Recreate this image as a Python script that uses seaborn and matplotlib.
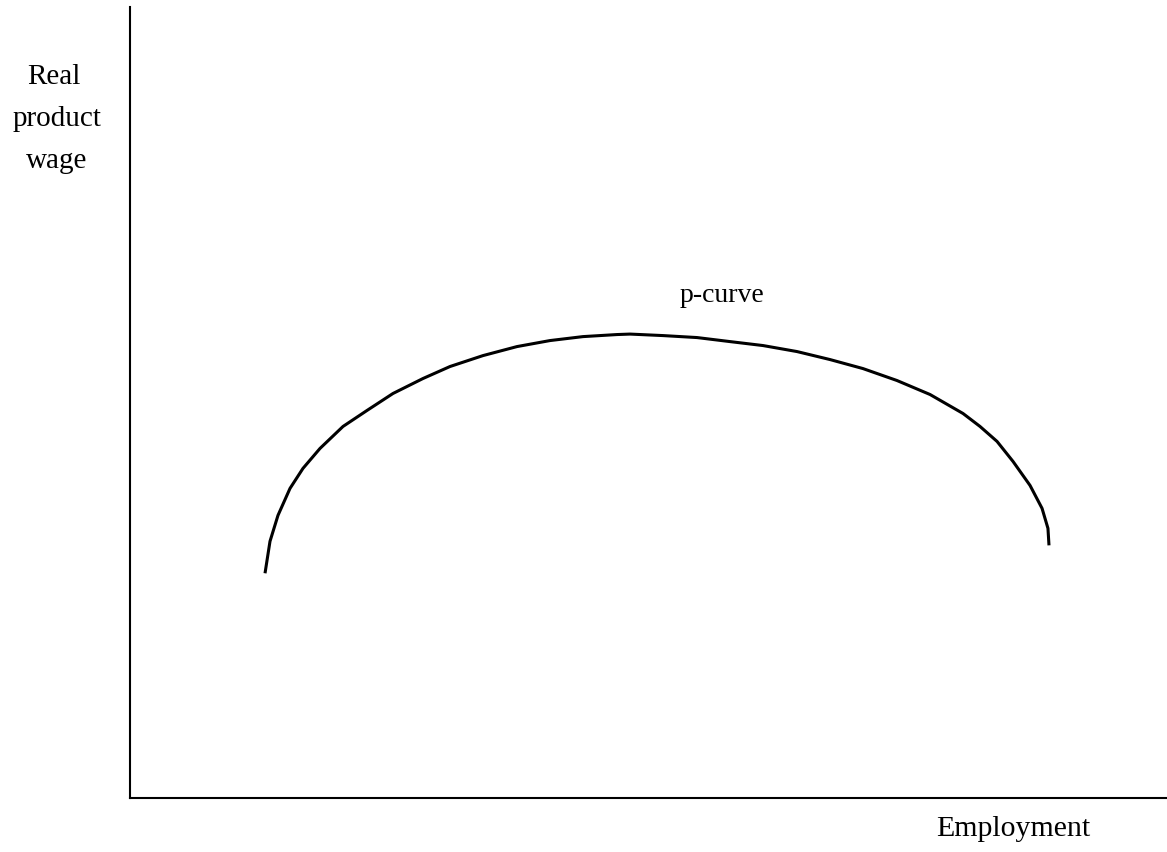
import numpy as np
import pandas as pd
import seaborn as sns
import matplotlib
matplotlib.use("Agg")
import matplotlib.pyplot as plt

# p-curve (arbitrary units, both axes run 0..10)
employment = [1.302, 1.350, 1.427, 1.543, 1.668, 1.832, 2.054, 2.285, 2.536, 2.825,
              3.086, 3.404, 3.732, 4.050, 4.368, 4.696, 4.822, 5.140, 5.468, 5.786,
              6.104, 6.432, 6.750, 7.068, 7.396, 7.715, 8.033, 8.197, 8.361, 8.515,
              8.679, 8.795, 8.852, 8.862]
wage = [2.841, 3.245, 3.573, 3.914, 4.167, 4.419, 4.697, 4.899, 5.114, 5.303,
        5.455, 5.593, 5.707, 5.783, 5.833, 5.859, 5.865, 5.846, 5.821, 5.770,
        5.720, 5.644, 5.543, 5.429, 5.278, 5.101, 4.861, 4.697, 4.508, 4.255,
        3.952, 3.662, 3.409, 3.194]

ylabel_lines = ["Real", "product", "wage"]

df = pd.DataFrame({"employment": employment, "wage": wage})

sns.set_style("white")
plt.rcParams['font.family'] = ['Liberation Serif', 'DejaVu Serif']
plt.rcParams['text.color'] = 'black'

fig = plt.figure(figsize=(11.67, 8.53), dpi=100)
ax = fig.add_axes([130 / 1167, 54 / 853, 1 - 130 / 1167, 791 / 853])

sns.lineplot(data=df, x="employment", y="wage", sort=False, color="black",
             linewidth=2.2, solid_joinstyle="round", solid_capstyle="butt", ax=ax)

ax.set_xlim(0, 10)
ax.set_ylim(0, 10)
ax.set_xticks([])
ax.set_yticks([])
ax.set_xlabel("")
ax.set_ylabel("")
sns.despine(ax=ax)
for s in ["left", "bottom"]:
    ax.spines[s].set_color("black")
    ax.spines[s].set_linewidth(1.5)

# axis labels, placed as in the original drawing
for i, (line, xc) in enumerate(zip(ylabel_lines, [54, 57, 57])):
    fig.text(xc / 1167, 1 - (84 + 42 * i) / 853, line, ha="center", va="baseline",
             fontsize=21, color="black")
fig.text(722 / 1167, 1 - 302 / 853, "p-curve", ha="center", va="baseline",
         fontsize=20, color="black")
fig.text(1013 / 1167, 1 - 836 / 853, "Employment", ha="center", va="baseline",
         fontsize=21.5, color="black")

fig.savefig("out.png", dpi=100)
